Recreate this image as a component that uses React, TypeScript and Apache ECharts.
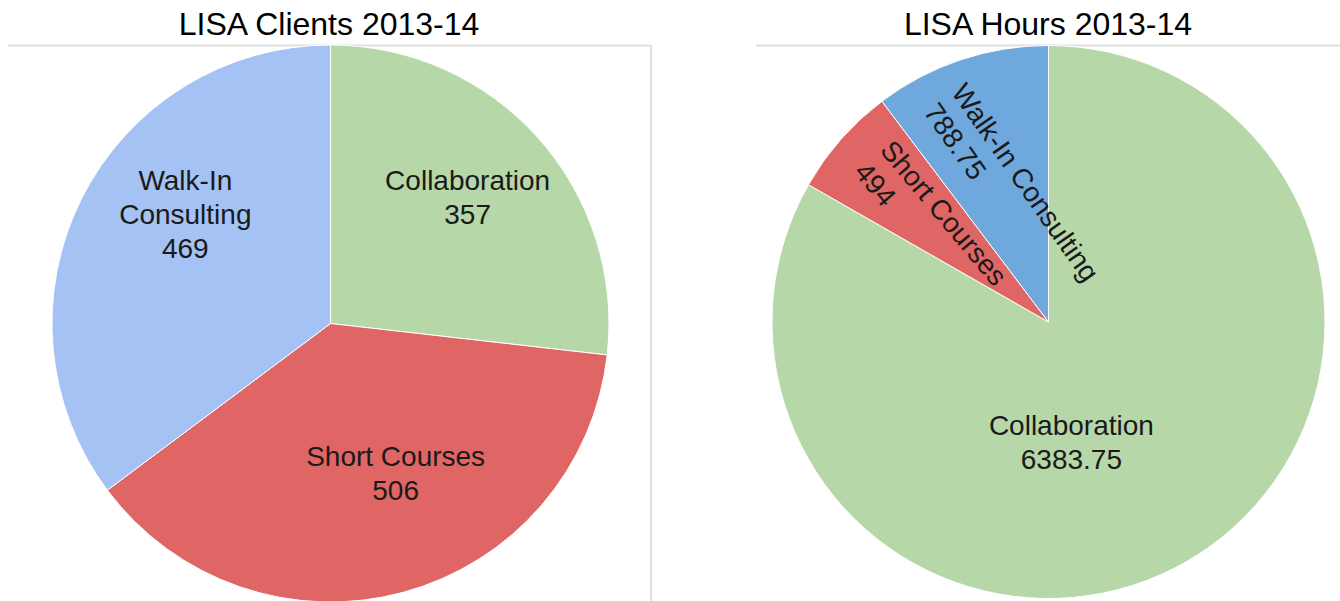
import React, { useEffect, useRef } from 'react';
import * as echarts from 'echarts';

// ---- data ----
const categories = ['Collaboration', 'Short Courses', 'Walk-In Consulting'];
const clientCounts = [357, 506, 469];
const hourTotals = [6383.75, 494, 788.75];
const chartTitles = ['LISA Clients 2013-14', 'LISA Hours 2013-14'];
const clientLabelNames = ['Collaboration', 'Short Courses', 'Walk-In\nConsulting'];

// ---- styles ----
const clientColors = ['#b6d7a8', '#e06666', '#a4c2f4'];
const hourColors = ['#b6d7a8', '#e06666', '#6fa8dc'];
const clientLabelNudge = [[31, -31], [28, 13], [-18, -45]];
const hourLabelNudge = [[-48, -2], [-11, 6], [8, -4]];
const hourLabelRotate = [0, -50, -55];

const FONT = '"Liberation Sans", Arial, Helvetica, sans-serif';
const LABEL_COLOR = '#1a1a1a';
const LINE_COLOR = '#e0e0e0';
const LABEL_SIZE = 28;
const LABEL_LINE = 34;

export default function App() {
  const ref = useRef<HTMLDivElement>(null);

  useEffect(() => {
    if (!ref.current) return;
    const chart = echarts.init(ref.current, undefined, { renderer: 'svg' });

    const baseLabel = {
      show: true,
      position: 'inside',
      color: LABEL_COLOR,
      fontSize: LABEL_SIZE,
      lineHeight: LABEL_LINE,
      fontFamily: FONT,
    };
    const richText = {
      n: { fontSize: LABEL_SIZE, lineHeight: LABEL_LINE, fontFamily: FONT, color: LABEL_COLOR },
      v: { fontSize: LABEL_SIZE, lineHeight: LABEL_LINE, fontFamily: FONT, color: LABEL_COLOR, align: 'left' },
    };

    const option: any = {
      animation: false,
      backgroundColor: '#ffffff',
      title: chartTitles.map((text, i) => ({
        text,
        left: i === 0 ? 329 : 1048,
        top: 8,
        padding: 0,
        textAlign: 'center',
        textStyle: {
          fontFamily: FONT,
          fontSize: 32,
          fontWeight: 'normal',
          color: '#000',
        },
      })),
      graphic: [
        { type: 'line', z: -1, shape: { x1: 8, y1: 45.5, x2: 651, y2: 45.5 }, style: { stroke: LINE_COLOR, lineWidth: 2 } },
        { type: 'line', z: -1, shape: { x1: 651, y1: 45, x2: 651, y2: 601 }, style: { stroke: LINE_COLOR, lineWidth: 2 } },
        { type: 'line', z: -1, shape: { x1: 756, y1: 45.5, x2: 1340, y2: 45.5 }, style: { stroke: LINE_COLOR, lineWidth: 2 } },
      ],
      series: [
        {
          type: 'pie',
          center: [330.5, 323.5],
          radius: 278.5,
          startAngle: 90,
          clockwise: true,
          silent: true,
          itemStyle: { borderColor: '#ffffff', borderWidth: 1 },
          label: {
            ...baseLabel,
            formatter: (p: any) => `${clientLabelNames[p.dataIndex]}\n${p.value}`,
          },
          labelLine: { show: false },
          labelLayout: (p: any) => ({
            dx: clientLabelNudge[p.dataIndex][0],
            dy: clientLabelNudge[p.dataIndex][1],
          }),
          data: categories.map((name, i) => ({
            name,
            value: clientCounts[i],
            itemStyle: { color: clientColors[i] },
          })),
        },
        {
          type: 'pie',
          center: [1048.5, 322],
          radius: 276.5,
          startAngle: 90,
          clockwise: true,
          silent: true,
          itemStyle: { borderColor: '#ffffff', borderWidth: 1 },
          label: {
            ...baseLabel,
            rich: richText,
            formatter: (p: any) =>
              hourLabelRotate[p.dataIndex] === 0
                ? `${p.name}\n${p.value}`
                : `{n|${p.name}}\n{v|${p.value}}`,
          },
          labelLine: { show: false },
          labelLayout: (p: any) => ({
            dx: hourLabelNudge[p.dataIndex][0],
            dy: hourLabelNudge[p.dataIndex][1],
          }),
          data: categories.map((name, i) => ({
            name,
            value: hourTotals[i],
            itemStyle: { color: hourColors[i] },
            label: { rotate: hourLabelRotate[i] },
          })),
        },
      ],
    };

    chart.setOption(option);
    return () => chart.dispose();
  }, []);

  return (
    <div
      ref={ref}
      style={{ position: 'absolute', left: 0, top: 0, width: 1340, height: 601, background: '#fff' }}
    />
  );
}
